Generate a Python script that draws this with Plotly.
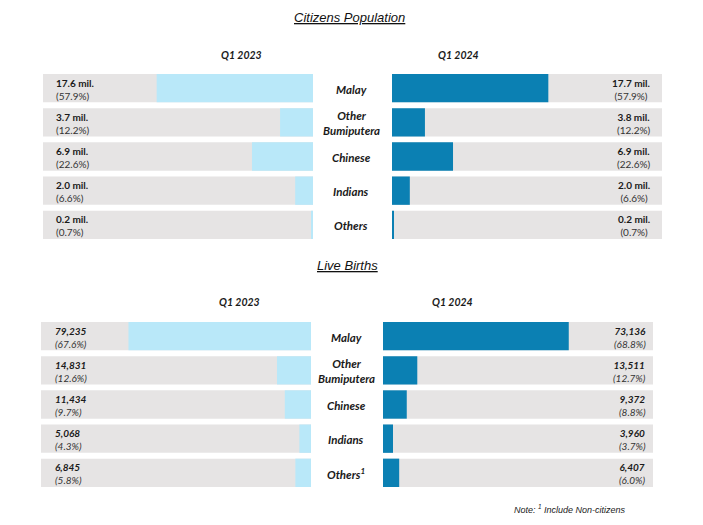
import plotly.graph_objects as go

# ---------------- data ----------------
categories = ["Malay", "Other Bumiputera", "Chinese", "Indians", "Others"]
cat_labels_top = ["Malay", "Other<br>Bumiputera", "Chinese", "Indians", "Others"]
cat_labels_bottom = ["Malay", "Other<br>Bumiputera", "Chinese", "Indians", "Others<sup>1</sup>"]

pop_2023_mil = [17.6, 3.7, 6.9, 2.0, 0.2]
pop_2023_pct = [57.9, 12.2, 22.6, 6.6, 0.7]
pop_2024_mil = [17.7, 3.8, 6.9, 2.0, 0.2]
pop_2024_pct = [57.9, 12.2, 22.6, 6.6, 0.7]

births_2023 = [79235, 14831, 11434, 5068, 6845]
births_2023_pct = [67.6, 12.6, 9.7, 4.3, 5.8]
births_2024 = [73136, 13511, 9372, 3960, 6407]
births_2024_pct = [68.8, 12.7, 8.8, 3.7, 6.0]

period_labels = ["Q1 2023", "Q1 2024"]
section_titles = ["Citizens Population", "Live Births"]
note_text = "Note: <sup>1</sup> Include Non-citizens"
FULL = 100

# ---------------- style ----------------
W, H = 703, 525
GRAY = "#e6e4e4"
LIGHT = "#b9e8f9"
DARK = "#0b80b3"
TXT = "#1a1a1a"
PCT = "#333333"
LABEL_FONT = "Lato"
BAR_W = 0.83

def px(x):
    return x / W

def py(y):
    return 1 - y / H

# panel geometry (pixels)
panels = {
    "x":  dict(x0=43,  x1=313, y0=71.1,  y1=241.9, rev=True),
    "x2": dict(x0=392, x1=662, y0=71.1,  y1=241.9, rev=False),
    "x3": dict(x0=41,  x1=311, y0=319.1, y1=489.9, rev=True),
    "x4": dict(x0=383, x1=653, y0=319.1, y1=489.9, rev=False),
}

fig = go.Figure()

series = [
    ("x", "y", pop_2023_pct, LIGHT),
    ("x2", "y2", pop_2024_pct, DARK),
    ("x3", "y3", births_2023_pct, LIGHT),
    ("x4", "y4", births_2024_pct, DARK),
]

for xa, ya, vals, col in series:
    fig.add_trace(go.Bar(
        y=categories, x=[FULL] * len(categories), orientation="h",
        marker=dict(color=GRAY, line=dict(width=0)), width=BAR_W,
        xaxis=xa, yaxis=ya, hoverinfo="skip", showlegend=False))
    fig.add_trace(go.Bar(
        y=categories, x=vals, orientation="h",
        marker=dict(color=col, line=dict(width=0)), width=BAR_W,
        xaxis=xa, yaxis=ya, showlegend=False))

layout_axes = {}
for key, p in panels.items():
    suffix = "" if key == "x" else key[1:]
    layout_axes["xaxis" + suffix] = dict(
        domain=[px(p["x0"]), px(p["x1"])],
        range=[FULL, 0] if p["rev"] else [0, FULL],
        visible=False, fixedrange=True,
        anchor="y" + suffix)
    layout_axes["yaxis" + suffix] = dict(
        domain=[py(p["y1"]), py(p["y0"])],
        categoryorder="array", categoryarray=categories,
        range=[len(categories) - 0.5, -0.5],
        visible=False, fixedrange=True,
        anchor="x" + suffix)

fig.update_layout(
    width=W, height=H,
    margin=dict(l=0, r=0, t=0, b=0),
    paper_bgcolor="white", plot_bgcolor="white",
    barmode="overlay",
    **layout_axes,
)

ann = []

# section titles
for title, (cx, cy) in zip(section_titles, [(349, 18), (347, 265)]):
    ann.append(dict(text="<i><u>" + title + "</u></i>", x=px(cx), y=py(cy),
                    xref="paper", yref="paper", showarrow=False,
                    xanchor="center", yanchor="middle",
                    font=dict(family="Liberation Sans", size=13, color="#111")))

# period headers
for lab, (cx, cy) in zip(period_labels * 2,
                         [(241, 55), (458, 55), (240, 302), (452, 302)]):
    ann.append(dict(text="<b><i>" + lab + "</i></b>", x=px(cx), y=py(cy),
                    xref="paper", yref="paper", showarrow=False,
                    xanchor="center", yanchor="middle",
                    font=dict(family=LABEL_FONT, size=10.5, color=TXT)))

# category labels
for labels, ya, cx in [(cat_labels_top, "y", 351), (cat_labels_bottom, "y3", 346)]:
    for cat, lab in zip(categories, labels):
        ann.append(dict(text="<b><i>" + lab + "</i></b>", x=px(cx), y=cat,
                        xref="paper", yref=ya, showarrow=False,
                        xanchor="center", yanchor="middle", yshift=-1,
                        font=dict(family=LABEL_FONT, size=11.5, color=TXT)))

# value labels
def add_values(texts, ya, xpix, anchor, align):
    for cat, t in zip(categories, texts):
        ann.append(dict(text=t, x=px(xpix), y=cat, xref="paper", yref=ya,
                        showarrow=False, xanchor=anchor, yanchor="middle",
                        align=align, yshift=-1, borderpad=0,
                        font=dict(family=LABEL_FONT, size=10, color=TXT)))

span_pct = '<span style="color:%s">' % PCT
add_values(["<b>%.1f mil.</b><br>%s(%.1f%%)</span>" % (m, span_pct, p)
            for m, p in zip(pop_2023_mil, pop_2023_pct)],
           "y", 55, "left", "left")
add_values(["<b>%.1f mil.</b><br>%s(%.1f%%)</span>" % (m, span_pct, p)
            for m, p in zip(pop_2024_mil, pop_2024_pct)],
           "y2", 651, "right", "center")
add_values(["<b><i>{:,}</i></b><br>{}<i>({:.1f}%)</i></span>".format(v, span_pct, p)
            for v, p in zip(births_2023, births_2023_pct)],
           "y3", 54, "left", "left")
add_values(["<b><i>{:,}</i></b><br>{}<i>({:.1f}%)</i></span>".format(v, span_pct, p)
            for v, p in zip(births_2024, births_2024_pct)],
           "y4", 647, "right", "center")

# note
ann.append(dict(text="<i>" + note_text + "</i>", x=px(570), y=py(509),
                xref="paper", yref="paper", showarrow=False,
                xanchor="center", yanchor="middle",
                font=dict(family="Liberation Sans", size=9, color="#222")))

fig.update_layout(annotations=ann)
fig.write_html("out.html", config={"displayModeBar": False},
               post_script="document.body.style.margin='0';")
